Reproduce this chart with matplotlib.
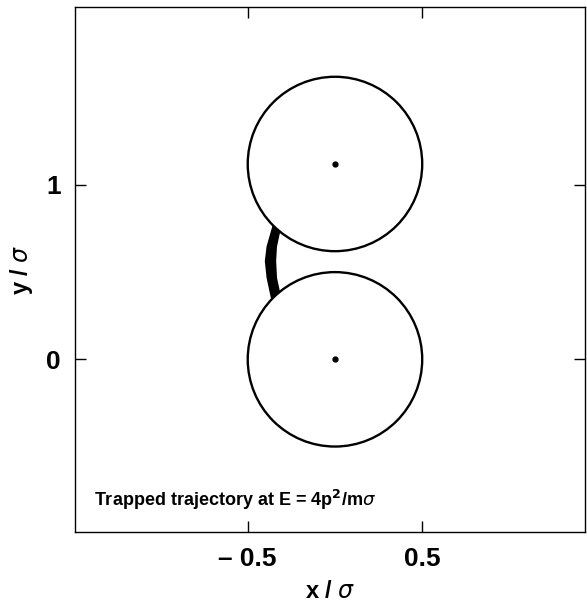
import numpy as np
import matplotlib
matplotlib.use("Agg")
import matplotlib.pyplot as plt
from matplotlib.patches import Circle

plt.rcParams['font.family'] = ['Liberation Sans', 'DejaVu Sans']
plt.rcParams['mathtext.fontset'] = 'dejavusans'

# sphere centres (units of sigma) and radius
centers_x = [0.0, 0.0]
centers_y = [0.0, 1.12]
radius = 0.5

# trapped trajectory band: outer and inner edge, sampled along y
band_y = [0.33, 0.40, 0.47, 0.566, 0.65, 0.72, 0.79]
band_outer_x = [-0.365, -0.38, -0.395, -0.405, -0.395, -0.375, -0.355]
band_inner_x = [-0.30, -0.32, -0.335, -0.34, -0.335, -0.32, -0.30]

xticks = [-0.5, 0.5]
xtick_labels = ['\u2013 0.5', '0.5']
yticks = [0, 1]
ytick_labels = ['0', '1']

fig = plt.figure(figsize=(5.87, 6.05), dpi=100)
ax = fig.add_axes([75 / 587, 1 - 532 / 605, 510 / 587, 525 / 605])

# trajectory first, spheres drawn on top with white fill to clip it
ax.fill_betweenx(band_y, band_outer_x, band_inner_x, color='black', lw=0, zorder=1)
for cx, cy in zip(centers_x, centers_y):
    ax.add_patch(Circle((cx, cy), radius, facecolor='white', edgecolor='black',
                        lw=1.7, zorder=2))
ax.plot(centers_x, centers_y, 'o', color='black', ms=3.5, zorder=3)

ax.set_xlim(-1.49, 1.433)
ax.set_ylim(-0.99, 2.02)

ax.set_xticks(xticks)
ax.set_xticklabels(xtick_labels, fontsize=19, fontweight='bold')
ax.set_yticks(yticks)
ax.set_yticklabels(ytick_labels, fontsize=19, fontweight='bold')
ax.tick_params(direction='in', length=8, width=1, top=True, right=True)
ax.tick_params(axis='x', pad=11)
ax.tick_params(axis='y', pad=10)

ax.set_xlabel(r'x / $\sigma$', fontsize=17, fontweight='bold', labelpad=6)
ax.set_ylabel(r'y / $\sigma$', fontsize=17, fontweight='bold', labelpad=8)

for s in ax.spines.values():
    s.set_linewidth(1.0)

ax.text(-1.38, -0.84, r'Trapped trajectory at E = 4p$^{\mathbf{2}}$/m$\sigma$',
        fontsize=13, fontweight='bold', ha='left', va='baseline')

fig.savefig('out.png', dpi=100)
